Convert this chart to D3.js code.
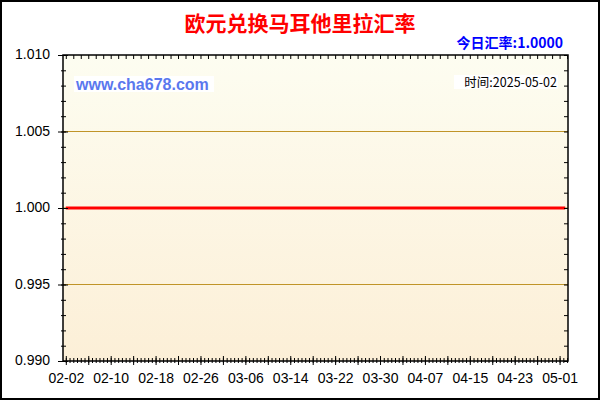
<!DOCTYPE html>
<html>
<head>
<meta charset="utf-8">
<title>欧元兑换马耳他里拉汇率</title>
<script src="https://cdn.jsdelivr.net/npm/d3@7"></script>
<style>
  body { margin: 0; background: #fff; }
</style>
</head>
<body>
<div id="chart"></div>
<script>
// data: the rate stays flat at 1.0000
var dates = ["2025-02-02", "2025-02-10", "2025-02-18", "2025-02-26", "2025-03-06", "2025-03-14",
             "2025-03-22", "2025-03-30", "2025-04-07", "2025-04-15", "2025-04-23", "2025-05-01", "2025-05-02"];
var rates = [1.0000, 1.0000, 1.0000, 1.0000, 1.0000, 1.0000,
             1.0000, 1.0000, 1.0000, 1.0000, 1.0000, 1.0000, 1.0000];

// tick labels
var xLabels = ["02-02", "02-10", "02-18", "02-26", "03-06", "03-14", "03-22", "03-30", "04-07", "04-15", "04-23", "05-01"];
var yLabels = [0.990, 0.995, 1.000, 1.005, 1.010];

var title = "欧元兑换马耳他里拉汇率";
var todayRate = "今日汇率:1.0000";
var site = "www.cha678.com";
var stamp = "时间:2025-05-02";

var W = 600, H = 400;
// plot box (window.top is read-only, so keep these in an object)
var plot = {left: 63, right: 568, top: 55, bottom: 361};

var parse = d3.utcParse("%Y-%m-%d");
var data = dates.map(function(d, i) { return {date: parse(d), value: rates[i]}; });

var svg = d3.select("#chart")
  .append("svg")
    .attr("width", W)
    .attr("height", H);

// plot background gradient
var grad = svg.append("defs").append("linearGradient")
  .attr("id", "bg")
  .attr("x1", 0).attr("y1", 0).attr("x2", 0).attr("y2", 1);
grad.append("stop").attr("offset", "0%").attr("stop-color", "#fdfdf1");
grad.append("stop").attr("offset", "100%").attr("stop-color", "#fcefd7");

svg.append("rect")
  .attr("x", 1).attr("y", 1)
  .attr("width", W - 2).attr("height", H - 2)
  .attr("fill", "#fff")
  .attr("stroke", "#000")
  .attr("stroke-width", 2);

// x: half a day of room on each side of the first / last date
var x = d3.scaleUtc()
  .domain([d3.utcHour.offset(parse("2025-02-02"), -12), d3.utcHour.offset(parse("2025-05-02"), 12)])
  .range([plot.left, plot.right]);

var y = d3.scaleLinear()
  .domain([0.990, 1.010])
  .range([plot.bottom, plot.top]);

svg.append("rect")
  .attr("x", plot.left).attr("y", plot.top)
  .attr("width", plot.right - plot.left).attr("height", plot.bottom - plot.top)
  .attr("fill", "url(#bg)");

// gridlines
svg.append("g")
  .selectAll("line")
  .data(yLabels.slice(1, -1))
  .enter().append("line")
    .attr("x1", plot.left).attr("x2", plot.right)
    .attr("y1", function(d) { return y(d); })
    .attr("y2", function(d) { return y(d); })
    .attr("stroke", "#c09428")
    .attr("stroke-width", 1);

// watermark texts with white boxes
svg.append("rect").attr("x", 74).attr("y", 76).attr("width", 140).attr("height", 16).attr("fill", "#fff");
svg.append("text")
  .attr("x", 76).attr("y", 90)
  .style("font-family", "Liberation Sans, Arial, sans-serif")
  .style("font-size", "16px")
  .style("font-weight", "bold")
  .style("fill", "#5a78ee")
  .text(site);

svg.append("rect").attr("x", 454).attr("y", 75).attr("width", 104).attr("height", 14).attr("fill", "#fff");
svg.append("text")
  .attr("x", 557).attr("y", 87)
  .attr("text-anchor", "end")
  .style("font-family", "Noto Sans CJK SC, sans-serif")
  .style("font-size", "12.5px")
  .style("fill", "#000")
  .text(stamp);

// the rate line
var line = d3.line()
  .x(function(d) { return x(d.date); })
  .y(function(d) { return y(d.value); });

svg.append("path")
  .datum(data)
  .attr("d", line)
  .attr("fill", "none")
  .attr("stroke", "#ff0000")
  .attr("stroke-width", 3);

// ticks
var labelDates = xLabels.map(function(s) { return parse("2025-" + s); });
var startDay = parse("2025-02-02");
var endDay = d3.utcHour.offset(parse("2025-05-02"), 12);
var majorDates = d3.utcDay.range(startDay, endDay, 4);
var minorDates = d3.utcHour.range(startDay, endDay, 16);
var topDates = d3.utcHour.range(startDay, endDay, 32);

function tickAxis(axis, g, x1, x2, y1, y2) {
  g.call(axis.tickFormat("").tickSize(0));
  g.select(".domain").remove();
  g.selectAll(".tick line")
    .attr("x1", x1).attr("x2", x2)
    .attr("y1", y1).attr("y2", y2)
    .attr("stroke", "#000");
}

tickAxis(d3.axisBottom(x).tickValues(minorDates),
  svg.append("g").attr("transform", "translate(0," + plot.bottom + ")"), 0, 0, -3, 2);
tickAxis(d3.axisBottom(x).tickValues(majorDates),
  svg.append("g").attr("transform", "translate(0," + plot.bottom + ")"), 0, 0, -5, 4);
tickAxis(d3.axisTop(x).tickValues(topDates),
  svg.append("g").attr("transform", "translate(0," + plot.top + ")"), 0, 0, 0, 4);

var yMinor = d3.range(990, 1011).map(function(v) { return v / 1000; });
tickAxis(d3.axisLeft(y).tickValues(yMinor),
  svg.append("g").attr("transform", "translate(" + plot.left + ",0)"), -2, 3, 0, 0);
tickAxis(d3.axisLeft(y).tickValues(yLabels),
  svg.append("g").attr("transform", "translate(" + plot.left + ",0)"), -5, 5, 0, 0);
tickAxis(d3.axisRight(y).tickValues(yMinor),
  svg.append("g").attr("transform", "translate(" + plot.right + ",0)"), -4, 0, 0, 0);

// frame
svg.append("rect")
  .attr("x", plot.left).attr("y", plot.top)
  .attr("width", plot.right - plot.left).attr("height", plot.bottom - plot.top)
  .attr("fill", "none")
  .attr("stroke", "#000")
  .attr("stroke-width", 1.5);

// axis labels
var gx = svg.append("g")
  .attr("transform", "translate(0," + plot.bottom + ")")
  .call(d3.axisBottom(x).tickValues(labelDates).tickFormat(d3.utcFormat("%m-%d")).tickSize(0).tickPadding(12));
gx.select(".domain").remove();
gx.selectAll("text")
  .style("font-family", "Liberation Sans, Arial, sans-serif")
  .style("font-size", "14px")
  .style("fill", "#000");

var gy = svg.append("g")
  .attr("transform", "translate(" + plot.left + ",0)")
  .call(d3.axisLeft(y).tickValues(yLabels).tickFormat(d3.format(".3f")).tickSize(0).tickPadding(13));
gy.select(".domain").remove();
gy.selectAll("text")
  .attr("dy", "0.25em")
  .style("font-family", "Liberation Sans, Arial, sans-serif")
  .style("font-size", "14px")
  .style("fill", "#000");

// titles
svg.append("text")
  .attr("x", 300).attr("y", 31)
  .attr("text-anchor", "middle")
  .style("font-family", "Noto Sans CJK SC, sans-serif")
  .style("font-size", "21px")
  .style("font-weight", "bold")
  .style("fill", "#ff0000")
  .text(title);

svg.append("text")
  .attr("x", 563).attr("y", 48)
  .attr("text-anchor", "end")
  .style("font-family", "Noto Sans CJK SC, sans-serif")
  .style("font-size", "14px")
  .style("font-weight", "bold")
  .style("fill", "#0000ff")
  .text(todayRate);
</script>
</body>
</html>
